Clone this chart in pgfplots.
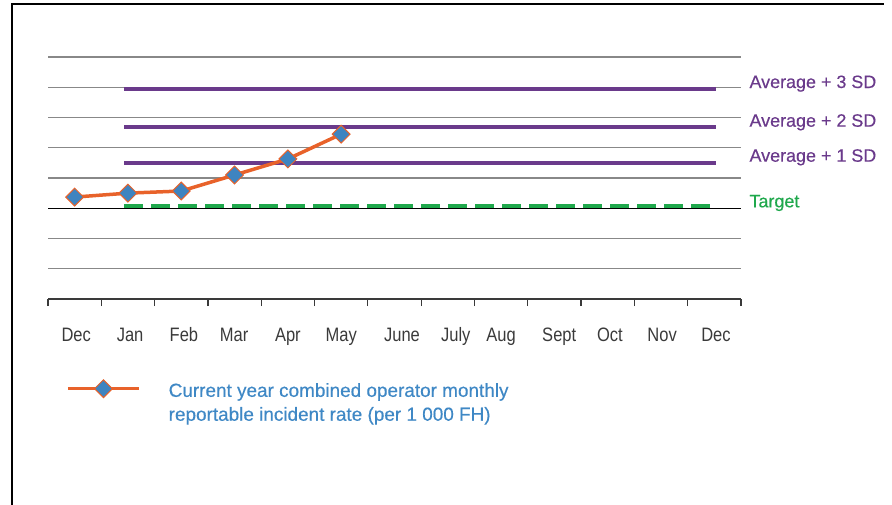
\documentclass[border=0pt]{standalone}
\usepackage{pgfplots}
\pgfplotsset{compat=1.18}
\usepackage{fontspec}
\setmainfont{Liberation Sans}[FakeBold=0.4]
\newfontfamily\narrowfont{Liberation Sans}[FakeStretch=0.85]
\definecolor{orng}{HTML}{E8622A}
\definecolor{mblue}{HTML}{3E84C0}
\definecolor{purp}{HTML}{6A3A8B}
\definecolor{grn}{HTML}{1FA84C}
\definecolor{legblue}{HTML}{3F88C5}
\definecolor{gridgray}{HTML}{888888}
\definecolor{labgray}{HTML}{3A3A3A}

\begin{document}
\begin{tikzpicture}
\begin{axis}[
  scale only axis, width=693bp, height=242bp,
  anchor=south west, at={(48bp,-299bp)},
  xmin=-0.5, xmax=12.5, ymin=0, ymax=8,
  axis x line*=bottom, axis y line*=left,
  x axis line style={-, draw=labgray, line width=1.2bp},
  y axis line style={draw=none},
  % labels sit a little off the category centres, as in the original
  xtick={0.03,1.04,2.05,2.99,4.0,5.0,6.14,7.15,8.0,9.09,10.04,11.02,12.03},
  xticklabels={Dec,Jan,Feb,Mar,Apr,May,June,July,Aug,Sept,Oct,Nov,Dec},
  minor xtick={-0.5,0.5,...,12.5},
  tick align=outside, major tick length=0pt, minor tick length=7bp,
  xtick style={draw=labgray, line width=1.2bp},
  xticklabel style={font=\narrowfont\fontsize{19.5}{19.5}\selectfont, text=labgray, anchor=base, yshift=-42bp},
  ytick={1,...,8}, yticklabels={}, ytick style={draw=none},
  ymajorgrids, major grid style={gridgray, line width=1.3bp},
  extra y ticks={3}, extra y tick labels={},
  extra y tick style={major grid style={black, line width=1.3bp}, ytick style={draw=none}},
  clip=false,
  legend cell align=left,
  legend style={draw=none, fill=none, inner sep=0pt, column sep=28bp,
    font=\fontsize{19}{24}\selectfont, text=legblue,
    nodes={inner sep=0pt, align=left, text=legblue},
    anchor=west, at={(0.026,-0.4215)}},
  legend image code/.code={
    \draw[#1, mark=none] (0bp,14bp) -- (71bp,14bp);
    \draw[#1] plot coordinates {(35.5bp,14bp)};
  },
]
% reference levels
\addplot[purp, line width=4bp, forget plot] coordinates {(0.93,6.94) (12.03,6.94)};
\addplot[purp, line width=4bp, forget plot] coordinates {(0.93,5.69) (12.03,5.69)};
\addplot[purp, line width=4bp, forget plot] coordinates {(0.93,4.48) (12.03,4.48)};
\addplot[grn, line width=4bp, dash pattern=on 19bp off 8bp, forget plot] coordinates {(0.93,3.08) (12.07,3.08)};
% monthly rate
\addplot[orng, line width=3.5bp, mark=square*, mark size=6.3bp,
  mark options={rotate=45, fill=mblue, draw=orng, line width=1bp, solid}]
  coordinates {(0,3.37) (1,3.50) (2,3.57) (3,4.10) (4,4.63) (5,5.45)};
\addlegendentry{Current year combined operator monthly\\reportable incident rate (per 1 000 FH)}
\node[anchor=base west, xshift=5bp, text=purp, font=\fontsize{18}{18}\selectfont] at (axis cs:12.5,6.975) {Average + 3 SD};
\node[anchor=base west, xshift=5bp, text=purp, font=\fontsize{18}{18}\selectfont] at (axis cs:12.5,5.696) {Average + 2 SD};
\node[anchor=base west, xshift=5bp, text=purp, font=\fontsize{18}{18}\selectfont] at (axis cs:12.5,4.539) {Average + 1 SD};
\node[anchor=base west, xshift=5bp, text=grn, font=\fontsize{18}{18}\selectfont] at (axis cs:12.5,3.031) {Target};
\end{axis}
\draw[line width=1.5bp] (12bp,-505bp) -- (12bp,-4bp) -- (884bp,-4bp);
\pgfresetboundingbox
\useasboundingbox (0,0) rectangle (892bp,-505bp);
\end{tikzpicture}
\end{document}
